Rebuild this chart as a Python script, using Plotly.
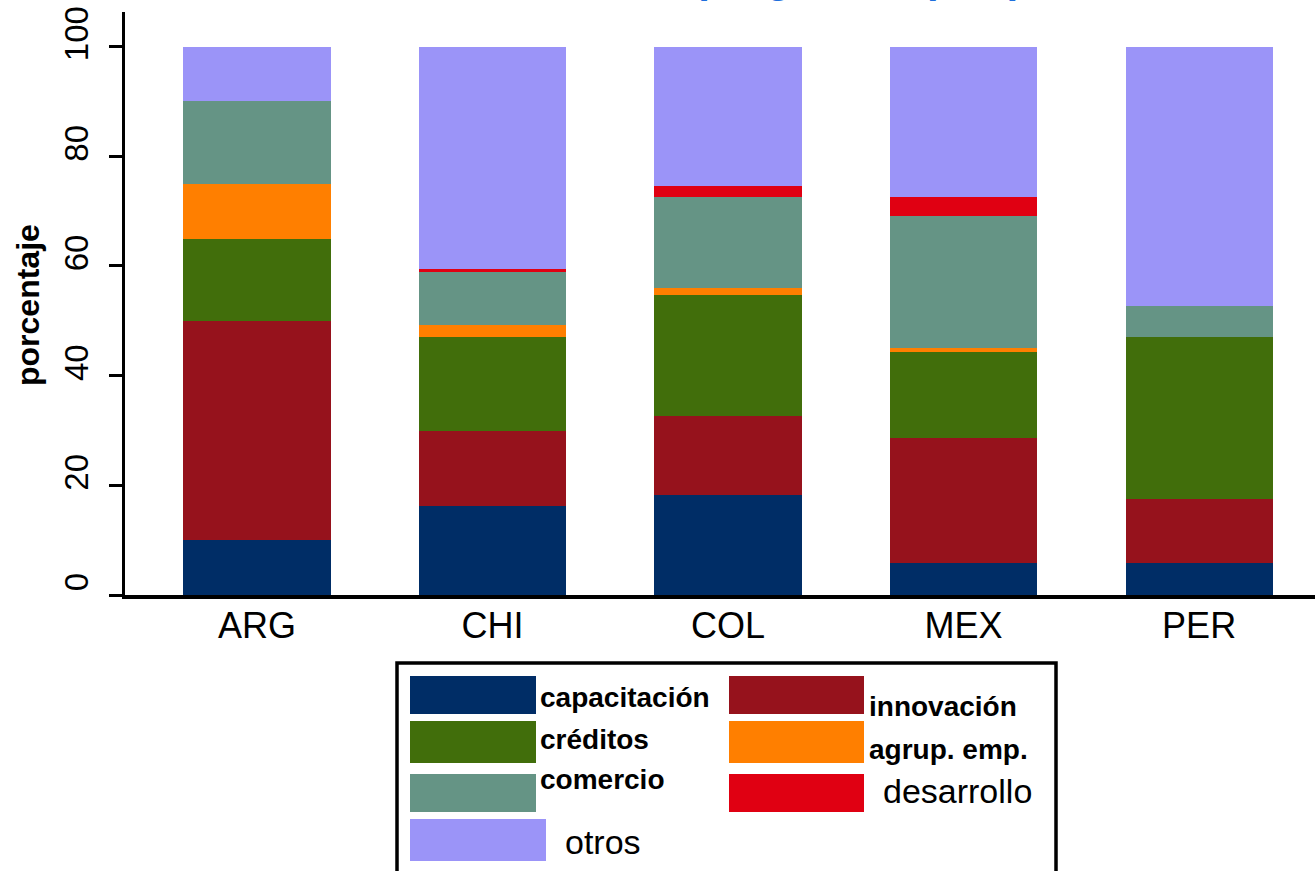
import plotly.graph_objects as go

# ---- data ----
paises = ["ARG", "CHI", "COL", "MEX", "PER"]
series_names = ["capacitación", "innovación", "créditos", "agrup. emp.", "comercio", "desarrollo", "otros"]
capacitacion = [10.0, 16.2, 18.2, 5.8, 5.8]
innovacion = [40.0, 13.7, 14.4, 22.9, 11.7]
creditos = [15.0, 17.1, 22.1, 15.6, 29.5]
agrup_emp = [10.0, 2.2, 1.3, 0.8, 0.0]
comercio = [15.0, 9.7, 16.6, 24.0, 5.7]
desarrollo = [0.0, 0.5, 2.0, 3.5, 0.0]
otros = [10.0, 40.6, 25.4, 27.4, 47.3]
y_ticks = [0, 20, 40, 60, 80, 100]
title_text = "Distribución de programas por país"
y_title = "porcentaje"

colors = ["#002D66", "#96121C", "#416E0B", "#FF7F00", "#659485", "#E00012", "#9B94F8"]
values = [capacitacion, innovacion, creditos, agrup_emp, comercio, desarrollo, otros]

W, H = 1315, 871
L, R, T, B = 125, 0, 12, 276
Y0PX = 595

def px_x(px):
    return (px - L) / (W - L - R)

def px_y(py):
    return (Y0PX - py) / (H - T - B)

FONT = "Liberation Sans, Arial, sans-serif"

fig = go.Figure()
for name, vals, col in zip(series_names, values, colors):
    fig.add_trace(go.Bar(x=paises, y=vals, name=name, marker=dict(color=col, line=dict(width=0)),
                         showlegend=False))

fig.update_layout(
    barmode="stack",
    bargap=0.375,
    width=W, height=H, autosize=False,
    margin=dict(l=L, r=R, t=T, b=B, pad=0),
    plot_bgcolor="white", paper_bgcolor="white",
    font=dict(family=FONT, color="black"),
)
fig.update_xaxes(
    range=[-0.5605, 4.492], showline=True, linecolor="black", linewidth=4,
    ticks="", showgrid=False, zeroline=False,
    tickfont=dict(family=FONT, size=36, color="black"), ticklabelstandoff=-4,
)
fig.update_yaxes(
    range=[0, 106.3], showline=True, linecolor="black", linewidth=3,
    ticks="outside", ticklen=13, tickwidth=3, tickcolor="black",
    tickvals=y_ticks, ticktext=[str(v) for v in y_ticks], tickangle=-90,
    showgrid=False, zeroline=False,
    tickfont=dict(family=FONT, size=33, color="black"), ticklabelstandoff=8,
    ticklabelshift=-8,
)

ann = []
shapes = []
# title (mostly cut off at top)
ann.append(dict(text="<b>" + title_text + "</b>", xref="paper", yref="paper",
                x=px_x(735), y=px_y(3.5), xanchor="center", yanchor="bottom",
                showarrow=False, font=dict(family=FONT, size=42, color="#1F6FDC")))
# y title
ann.append(dict(text="<b>" + y_title + "</b>", xref="paper", yref="paper",
                x=px_x(28), y=px_y(305), xanchor="center", yanchor="middle", textangle=-90,
                showarrow=False, font=dict(family=FONT, size=32, color="black")))

# legend box
shapes.append(dict(type="rect", xref="paper", yref="paper", x0=px_x(397), x1=px_x(1056),
                   y0=px_y(663), y1=px_y(905), line=dict(color="black", width=3.5), fillcolor="rgba(0,0,0,0)"))

# legend entries: (series index, swatch x0, x1, y0, y1, text x, text y, bold, size)
leg = [
    (0, 410, 536, 676, 714, 538, 697, True, 28),
    (1, 729, 864, 676, 714, 867, 706, True, 28),
    (2, 410, 536, 721, 763, 538, 739, True, 28),
    (3, 729, 864, 721, 763, 867, 749, True, 28),
    (4, 410, 536, 774, 812, 538, 780, True, 28),
    (5, 729, 864, 774, 812, 881, 791, False, 34),
    (6, 410, 546, 819, 861, 563, 842, False, 34),
]
for i, sx0, sx1, sy0, sy1, tx, ty, bold, size in leg:
    shapes.append(dict(type="rect", xref="paper", yref="paper", x0=px_x(sx0), x1=px_x(sx1),
                       y0=px_y(sy1), y1=px_y(sy0), line=dict(width=0), fillcolor=colors[i]))
    txt = series_names[i]
    if bold:
        txt = "<b>" + txt + "</b>"
    ann.append(dict(text=txt, xref="paper", yref="paper", x=px_x(tx), y=px_y(ty),
                    xanchor="left", yanchor="middle", showarrow=False,
                    font=dict(family=FONT, size=size, color="black")))

fig.update_layout(annotations=ann, shapes=shapes)
fig.write_html("out.html", config={"displayModeBar": False},
               post_script="document.body.style.margin='0px';document.body.style.overflow='hidden';")
